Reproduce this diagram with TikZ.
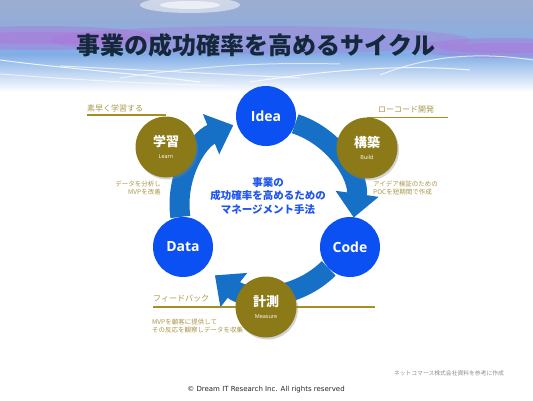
\documentclass[tikz,border=0pt]{standalone}
\usepackage{fontspec}
\setmainfont{Noto Sans CJK JP}
\newfontfamily\labelfont{Open Sans}
\newfontfamily\footfont{DejaVu Sans}
\usetikzlibrary{arrows.meta,positioning,backgrounds,shadows}
\definecolor{ink}{HTML}{13283A}
\definecolor{nodeblue}{HTML}{0B50F2}
\definecolor{ringblue}{HTML}{1570C6}
\definecolor{olivegold}{HTML}{8C7A18}
\definecolor{rulegold}{HTML}{A68F22}
\definecolor{goldtext}{HTML}{A8954A}
\definecolor{hubblue}{HTML}{1F55EE}
\definecolor{skytop}{HTML}{9EADD0}
\definecolor{skymid}{HTML}{82AEE6}
\definecolor{violet}{HTML}{B070DA}
\definecolor{notegray}{HTML}{8C8C8C}
\tikzset{
  stage/.style={circle, fill=nodeblue, minimum size=60pt, inner sep=0pt, text=white,
                font=\labelfont\bfseries\fontsize{14}{14}\selectfont},
  phase/.style={circle, fill=olivegold, minimum size=61pt, inner sep=0pt, text=white, align=center,
                drop shadow={shadow xshift=1.5pt, shadow yshift=-2pt, opacity=.35},
                font=\bfseries\fontsize{13}{15}\selectfont},
  cyclearrow/.style={draw=ringblue, line width=20pt, -{Triangle[width=42pt,length=24pt]}},
  tagline/.style={draw=rulegold, line width=1.2pt},
  tag/.style={text=goldtext, inner sep=0pt, anchor=base west, font=\fontsize{8}{9}\selectfont},
  memo/.style={text=goldtext, inner sep=0pt, font=\fontsize{6.5}{8}\selectfont},
  streak/.style={white, opacity=.8, line width=1pt}
}
\newcommand{\phasename}[2]{#1\\[-3pt]{\labelfont\mdseries\fontsize{5.5}{6}\selectfont #2}}
\begin{document}
\begin{tikzpicture}[x=1pt,y=1pt]
  \useasboundingbox (0,0) rectangle (533,400);
  % sky banner
  \shade[top color=skytop, bottom color=skymid] (0,345) rectangle (533,400);
  \shade[top color=skymid, bottom color=white] (0,308) rectangle (533,345.5);
  \fill[violet, opacity=.35] (260,360) ellipse [x radius=210pt, y radius=14pt];
  \fill[violet, opacity=.4] (40,362) ellipse [x radius=120pt, y radius=12pt];
  \fill[violet, opacity=.4] (40,362) ellipse [x radius=90pt, y radius=6pt];
  \fill[violet, opacity=.4] (505,352) ellipse [x radius=90pt, y radius=10pt];
  \fill[violet, opacity=.4] (505,352) ellipse [x radius=65pt, y radius=5pt];
  \fill[white, opacity=.5] (190,395) ellipse [x radius=50pt, y radius=8pt];
  \fill[white, opacity=.6] (190,395) ellipse [x radius=30pt, y radius=4pt];
  \draw[streak] (0,340) .. controls (60,332) and (120,328) .. (200,318);
  \draw[streak, opacity=.7] (60,334) .. controls (140,330) and (220,326) .. (300,322);
  \draw[streak] (250,318) .. controls (330,330) and (400,336) .. (470,330);
  \draw[streak, opacity=.7] (380,325) .. controls (430,345) and (480,348) .. (533,340);
  \draw[streak, opacity=.6] (120,322) .. controls (200,334) and (260,338) .. (340,336);
  \draw[streak, opacity=.6] (0,326) .. controls (80,320) and (150,316) .. (230,314);

  \node[font=\bfseries\fontsize{24}{24}\selectfont, text=ink] (title) at (256,355) {事業の成功確率を高めるサイクル};

  % cycle
  \node[stage] (idea) at (266,284) {Idea};
  \node[stage] (code) at (350,153) {Code};
  \node[stage] (data) at (183,153) {Data};
  \node[phase] (learn) at (166,253) {\phasename{学習}{Learn}};
  \node[phase] (build) at (367,252) {\phasename{構築}{Build}};
  \node[phase] (measure) at (266,93) {\phasename{計測}{Measure}};
  \node[text=hubblue, align=center, font=\bfseries\fontsize{10.5}{13.5}\selectfont] (hub) at (268,204)
    {事業の\\成功確率を高めるための\\マネージメント手法};

  % labels
  \node[tag] (learntag) at (87,289) {素早く学習する};
  \node[tag] (buildtag) at (378,288) {ローコード開発};
  \node[tag] (measuretag) at (153,99) {フィードバック};
  \coordinate (buildend) at (448,283);
  \coordinate (fbend) at (375,93);
  \node[memo, align=right, anchor=north east] (learnnote) at (161,219) {データを分析し\\MVPを改善};
  \node[memo, align=left, anchor=north west] (buildnote) at (373,219) {アイデア検証のための\\POCを短期間で作成};
  \node[memo, align=left, anchor=north west] (measurenote) at (152,81) {MVPを顧客に提供して\\その反応を観察しデータを収集};
  \node[font=\fontsize{5.8}{7}\selectfont, text=notegray] (source) at (449,27) {ネットコマース株式会社資料を参考に作成};
  \node[font=\footfont\fontsize{7}{8}\selectfont, text=black!85] (copy) at (266,10)
    {\textcopyright{} Dream IT Research Inc. All rights reserved};

  \begin{scope}[on background layer]
    \draw[cyclearrow] (idea.-15) arc[start angle=72, end angle=-8, radius=86pt];
    \draw[cyclearrow] (code.-135) arc[start angle=-45, end angle=-128, radius=86pt];
    \draw[cyclearrow] (data.95) arc[start angle=188, end angle=112, radius=86pt];
    \draw[tagline] ([yshift=-4pt]learntag.base west) -- ([yshift=-4pt]learntag.base west -| learn.north);
    \draw[tagline] (build.north) -- (build.north -| buildend);
    \draw[tagline] (measuretag.base west |- measure) -- (fbend);
  \end{scope}
\end{tikzpicture}
\end{document}
